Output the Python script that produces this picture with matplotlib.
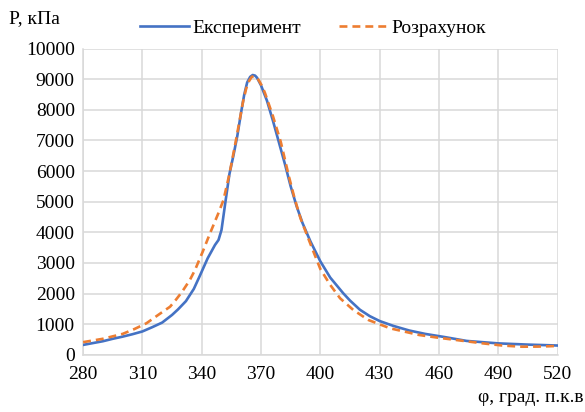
import matplotlib
matplotlib.use('Agg')
import matplotlib.pyplot as plt

plt.rcParams['font.family'] = ['Liberation Serif', 'DejaVu Serif']

# --- data ---
phi_exp = [280, 290, 295, 300, 305, 310, 315, 320, 325, 328, 332, 336, 339, 343, 346.7,
           348.5, 350, 352, 354, 356, 358, 360, 361.5, 363, 364.5, 365.8, 367, 368, 370,
           373, 376, 379, 382, 385, 388, 391, 395, 400, 405, 411.6, 415, 420, 425, 430,
           437, 445, 453, 463, 474, 490, 505, 520]
p_exp = [320, 440, 520, 590, 670, 760, 900, 1050, 1300, 1480, 1750, 2150, 2572, 3150, 3585,
         3750, 4075, 5000, 5900, 6500, 7150, 7950, 8500, 8900, 9080, 9140, 9120, 9050, 8800,
         8300, 7650, 6950, 6250, 5500, 4850, 4300, 3700, 3050, 2520, 2006, 1770, 1470, 1260, 1100,
         940, 790, 680, 575, 450, 370, 330, 300]

phi_calc = [280, 290, 300, 306, 312, 318, 324, 327, 330, 334, 336.6, 340.5, 344.2, 348.4,
            351, 354, 357, 361, 362.5, 364, 365.3, 366.5, 367.8, 369, 370.5, 372, 376, 380,
            384, 387, 390, 393, 396, 400, 405, 410, 416.7, 424.3, 435.3, 450, 459, 470,
            482, 492, 502, 510, 520]
p_calc = [410, 520, 680, 840, 1026, 1300, 1569, 1800, 2050, 2441, 2768, 3366, 3967, 4620,
          5055, 5900, 6900, 8300, 8700, 8950, 9080, 9100, 9060, 8950, 8780, 8550, 7800, 6950,
          5850, 5100, 4450, 3950, 3450, 2800, 2280, 1843, 1460, 1134, 862, 644, 560, 470,
          372, 300, 261, 265, 285]

x_ticks = [280, 310, 340, 370, 400, 430, 460, 490, 520]
y_ticks = list(range(0, 10001, 1000))

fig = plt.figure(figsize=(5.85, 4.12), dpi=100)
ax = fig.add_axes([83.1 / 585, 1 - 354.7 / 412, 474.5 / 585, 306 / 412])

ax.plot(phi_exp, p_exp, color='#4472C4', lw=1.9, label='Експеримент', zorder=3)
ax.plot(phi_calc, p_calc, color='#ED7D31', lw=1.9, dashes=(3, 1.9), label='Розрахунок', zorder=4)

ax.set_xlim(280, 520)
ax.set_ylim(0, 10000)
ax.set_xticks(x_ticks)
ax.set_yticks(y_ticks)
ax.grid(True, color='#d9d9d9', lw=1.1)
ax.set_axisbelow(True)
ax.tick_params(length=0, labelsize=14, colors='black', pad=8)
ax.tick_params(axis='y', pad=6)
for s in ['top', 'right']:
    ax.spines[s].set_visible(False)
for s in ['left', 'bottom']:
    ax.spines[s].set_color('#d9d9d9')
    ax.spines[s].set_linewidth(1.1)

fig.text(9 / 585, 1 - 19 / 412, 'P, кПа', fontsize=14, ha='left', va='center')
fig.text(583 / 585, 1 - 398 / 412, 'φ, град. п.к.в', fontsize=14, ha='right', va='center')

fig.legend(loc='center', bbox_to_anchor=(313 / 585, 1 - 28 / 412), ncol=2, frameon=False,
           fontsize=14, handlelength=2.5, columnspacing=2.0, handletextpad=0.15)

fig.savefig('out.png', dpi=100)
